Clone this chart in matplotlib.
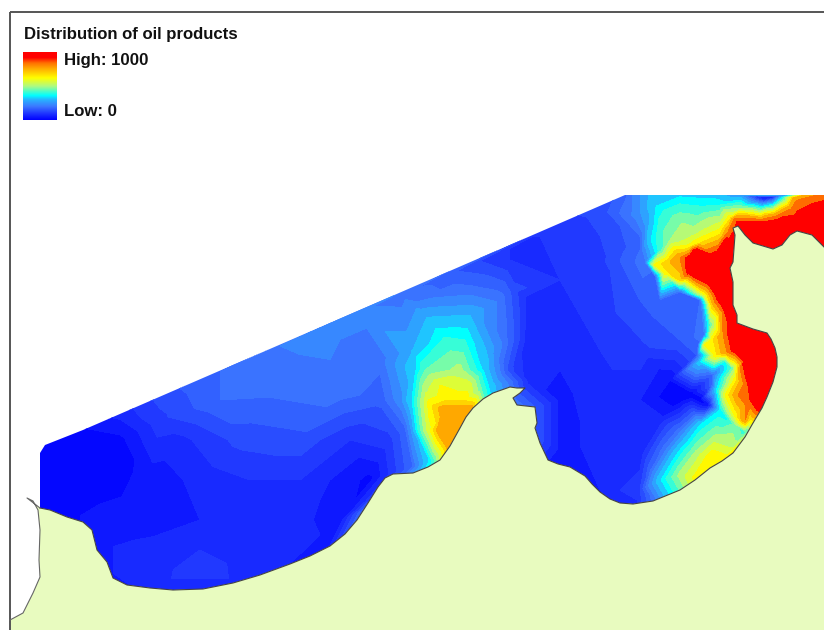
import numpy as np
import matplotlib
matplotlib.use("Agg")
import matplotlib.pyplot as plt
from matplotlib.colors import LinearSegmentedColormap
from matplotlib.patches import Polygon, Rectangle

plt.rcParams["font.family"] = ["Liberation Sans", "DejaVu Sans"]

# ----------------------------------
# MAP DATA (image pixel coordinates)
# ----------------------------------
coast_x = [40, 50, 67, 83, 92, 97, 107, 113, 127, 150, 173, 203, 233, 260, 290, 310, 330, 345, 357, 368, 378,
           385, 393, 413, 428, 440, 450, 460, 466, 473, 483, 493, 510, 517, 525, 520, 513, 517, 535, 537, 535,
           540, 548, 558, 570, 585, 592, 600, 610, 620, 633, 653, 680, 695, 710, 722, 733, 745, 753, 762, 767,
           773, 777, 777, 775, 771, 767, 760, 753, 745, 737, 737, 733, 733, 730, 733, 735, 733, 738, 745, 753,
           773, 782, 790, 797, 812, 824]
coast_y = [508, 510, 517, 522, 530, 550, 562, 578, 585, 588, 590, 589, 583, 575, 564, 556, 546, 534, 520, 503, 487,
           478, 474, 473, 467, 460, 446, 428, 417, 408, 399, 393, 387, 388, 388, 393, 398, 405, 407, 423, 428,
           443, 460, 464, 467, 476, 484, 492, 499, 503, 504, 501, 490, 480, 468, 461, 453, 437, 423, 408, 397,
           382, 367, 357, 348, 339, 333, 331, 329, 326, 323, 315, 305, 282, 268, 262, 235, 228, 226, 235, 243,
           249, 245, 235, 231, 235, 247]
shore_x = [10, 23, 33, 40, 39, 40, 38, 33, 27]
shore_y = [620, 613, 593, 577, 560, 530, 510, 501, 498]
sea_top_x = [824, 625, 83, 45, 40]
sea_top_y = [195, 195, 430, 445, 453]

west_x = [20, 40, 40, 80, 120, 160, 200, 240, 280, 320, 360, 400, 440, 480, 520, 560, 600, 620,
          60, 120, 180, 240, 300, 350, 390, 60, 100, 150, 200, 250, 300, 340, 370,
          100, 150, 200, 250, 300, 340, 120, 160, 200, 240, 280, 320, 160, 220, 280, 340, 380, 400,
          100, 600, 20, 100, 300]
west_y = [445, 453, 508, 430, 414, 397, 380, 363, 346, 329, 312, 295, 278, 261, 244, 228, 211, 185,
          440, 440, 440, 440, 440, 440, 440, 480, 480, 480, 480, 480, 480, 480, 480,
          520, 520, 520, 520, 520, 520, 560, 570, 570, 560, 550, 535, 420, 400, 380, 390, 400, 400,
          460, 195, 520, 600, 600]
west_v = [0, 5, 10, 25, 70, 130, 170, 190, 210, 220, 220, 190, 170, 120, 80, 100, 130, 150,
          5, 20, 80, 130, 140, 90, 110, 0, 15, 40, 70, 90, 90, 50, 20,
          40, 50, 60, 70, 70, 40, 70, 80, 110, 80, 70, 60, 110, 180, 200, 200, 160, 230,
          10, 150, 10, 40, 40]

plume_x = [445, 460, 440, 450, 470, 435, 428, 420, 412, 405, 430, 445, 465, 440, 470, 425, 480, 490, 460,
           425, 415, 485, 445, 465, 410, 490, 470, 425, 510, 510, 530, 500, 470, 440, 515, 510, 380, 413, 430,
           460, 500, 412, 415]
plume_y = [410, 410, 430, 445, 410, 425, 430, 430, 430, 430, 405, 400, 400, 385, 385, 390, 390, 385, 370,
           370, 370, 370, 340, 340, 350, 350, 315, 315, 340, 370, 380, 300, 290, 290, 290, 260, 360, 467, 460,
           480, 420, 400, 300]
plume_v = [790, 790, 790, 790, 790, 640, 560, 420, 260, 170, 640, 650, 650, 600, 560, 520, 450, 320, 500,
           430, 330, 320, 390, 380, 280, 270, 290, 280, 170, 130, 70, 200, 190, 180, 130, 90, 190, 180, 350,
           790, 300, 340, 200]

bay_x = [530, 530, 560, 560, 560, 560, 600, 600, 600, 600, 600, 640, 640, 640, 640, 640, 636,
         660, 680, 680, 690, 660, 670, 700, 708, 540, 620, 670,
         640, 650, 665, 680, 695, 660, 680, 700, 720, 680, 695, 715, 735, 695, 712, 722, 730, 680, 750, 745]
bay_y = [300, 340, 280, 340, 400, 450, 260, 320, 380, 440, 490, 250, 300, 350, 400, 450, 503,
         300, 340, 400, 395, 420, 395, 400, 405, 480, 520, 380,
         490, 470, 450, 430, 415, 480, 450, 425, 410, 475, 455, 435, 425, 478, 455, 462, 445, 510, 420, 432]
bay_v = [70, 60, 90, 70, 50, 50, 110, 100, 80, 70, 60, 180, 150, 110, 60, 60, 80,
         170, 150, 10, 0, 70, 10, 0, 30, 40, 50, 30,
         120, 170, 200, 190, 180, 330, 340, 340, 340, 500, 500, 480, 450, 620, 640, 660, 520, 350, 640, 400]

north_x = [650, 680, 710, 740, 755, 765, 772, 780, 785, 795, 830, 790, 775, 780, 830, 830, 800, 765, 745, 762, 765,
           655, 660, 680, 700, 720, 740, 760, 730, 720, 705, 690, 670, 660, 650, 645, 635, 640, 645,
           680, 670, 655, 665, 680, 690, 655, 680, 700, 705, 712, 722, 716, 710, 704, 698,
           700, 715, 725, 710, 720, 728, 730, 720, 700, 690, 728, 735, 750, 695, 690]
north_y = [195, 195, 195, 195, 200, 198, 197, 198, 200, 198, 190, 208, 215, 222, 210, 240, 225, 240, 225, 222, 215,
           205, 225, 220, 210, 205, 208, 212, 218, 225, 232, 235, 240, 250, 240, 225, 215, 240, 262,
           258, 262, 265, 272, 280, 272, 276, 292, 300, 295, 305, 312, 318, 325, 335, 345,
           270, 260, 245, 280, 295, 310, 250, 238, 243, 246, 232, 220, 216, 252, 258]
north_v = [300, 330, 320, 250, 180, 30, 50, 300, 480, 770, 780, 780, 760, 950, 1000, 1000, 1000, 1000, 1000, 880, 700,
           330, 400, 470, 400, 380, 480, 520, 640, 560, 560, 520, 480, 400, 330, 250, 220, 170, 200,
           800, 720, 620, 640, 680, 950, 170, 180, 180, 600, 700, 800, 580, 420, 200, 170,
           1000, 1000, 1000, 1000, 1000, 1000, 1000, 700, 660, 620, 800, 850, 720, 1000, 950]

east_x = [705, 712, 722, 735, 716, 727, 738, 700, 725, 745, 760, 765, 733, 736, 745, 755, 770,
          697, 712, 712, 716, 726, 738, 750, 760, 728, 735, 745, 790, 800, 780]
east_y = [345, 340, 335, 335, 355, 352, 350, 362, 362, 360, 345, 370, 368, 380, 385, 385, 390,
          355, 375, 385, 390, 395, 395, 400, 405, 420, 415, 420, 420, 340, 300]
east_v = [620, 640, 780, 1000, 650, 800, 1000, 320, 360, 950, 1000, 1000, 450, 650, 830, 1000, 1000,
          150, 170, 170, 330, 620, 800, 880, 1000, 370, 620, 800, 1000, 1000, 1000]

band_values = [-1, 30, 60, 90, 120, 150, 180, 210, 250, 290, 340, 380, 430, 480, 540, 600, 660, 720, 800, 880, 1001]
legend_title = "Distribution of oil products"
legend_high = "High: 1000"
legend_low = "Low: 0"

# ----------------------------------
# CREATE PLOT
# ----------------------------------
fig = plt.figure(figsize=(8.24, 6.30), dpi=100)
ax = fig.add_axes([0, 0, 1, 1])
ax.set_xlim(0, 824)
ax.set_ylim(630, 0)
ax.axis("off")

oil_cmap = LinearSegmentedColormap.from_list(
    "oil",
    [(0.0, "#0000ff"), (0.1, "#2038ff"), (0.2, "#3c78ff"), (0.3, "#28b4ff"), (0.36, "#00ffff"),
     (0.5, "#b0fa80"), (0.62, "#ffff00"), (0.75, "#ffb000"), (0.84, "#ff7000"), (0.92, "#ff0000"), (1.0, "#ff0000")]
)

xs = np.array(west_x + plume_x + bay_x + north_x + east_x, dtype=float)
ys = np.array(west_y + plume_y + bay_y + north_y + east_y, dtype=float)
vs = np.array(west_v + plume_v + bay_v + north_v + east_v, dtype=float)

# Sea clipped to its outline
sea_outline = list(zip(coast_x, coast_y)) + list(zip(sea_top_x, sea_top_y))
sea_patch = Polygon(sea_outline, closed=True, facecolor="none", edgecolor="none", transform=ax.transData)
ax.add_patch(sea_patch)
contours = ax.tricontourf(xs, ys, vs, levels=band_values, cmap=oil_cmap, vmin=0, vmax=1000)
contours.set_clip_path(sea_patch)

# Land
land_outline = (list(zip(coast_x, coast_y)) + [(824, 632), (10, 632)]
                + list(zip(shore_x, shore_y)))
ax.add_patch(Polygon(land_outline, closed=True, facecolor="#e8fbbf", edgecolor="none"))
ax.plot(coast_x, coast_y, color="#444444", linewidth=0.8)
ax.plot(shore_x + coast_x[:1], shore_y + coast_y[:1], color="#666666", linewidth=0.8)

# Frame
ax.add_patch(Rectangle((10, 12), 900, 800, facecolor="none", edgecolor="#555555", linewidth=1.4))

# ----------------------------------
# LEGEND
# ----------------------------------
ax.imshow(np.linspace(1, 0, 256).reshape(-1, 1), cmap=oil_cmap, extent=(23.5, 57.5, 120.5, 52.5),
          aspect="auto", vmin=0, vmax=1)
ax.set_xlim(0, 824)
ax.set_ylim(630, 0)
ax.text(24, 34.5, legend_title, fontsize=12.1, fontweight="bold", color="#111111", va="center", ha="left")
ax.text(64, 60, legend_high, fontsize=12.1, fontweight="bold", color="#111111", va="center", ha="left")
ax.text(64, 111, legend_low, fontsize=12.1, fontweight="bold", color="#111111", va="center", ha="left")

plt.savefig("out.png", dpi=100)
